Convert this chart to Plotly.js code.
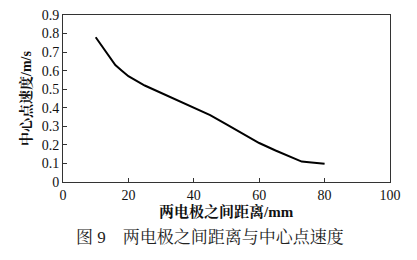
<!DOCTYPE html>
<html><head><meta charset="utf-8">
<script src="https://cdn.plot.ly/plotly-3.0.1.min.js"></script>
<style>html,body{margin:0;padding:0;background:#fff;}#c{width:417px;height:260px;}</style>
</head><body><div id="c"></div>
<script>
const distance = [10, 12, 14, 16, 18, 20, 25, 30, 35, 40, 45, 50, 55, 60, 65, 70, 73, 76, 80];
const speed = [0.78, 0.73, 0.68, 0.63, 0.60, 0.57, 0.52, 0.48, 0.44, 0.40, 0.36, 0.31, 0.26, 0.21, 0.17, 0.13, 0.11, 0.105, 0.098];
const xTicks = [0, 20, 40, 60, 80, 100];
const yTicks = [0, 0.1, 0.2, 0.3, 0.4, 0.5, 0.6, 0.7, 0.8, 0.9];
const yTickText = ['0', '0.1', '0.2', '0.3', '0.4', '0.5', '0.6', '0.7', '0.8', '0.9'];
const xTitle = '两电极之间距离/mm';
const yTitle = '中心点速度/m/s';
const caption = '图 9　两电极之间距离与中心点速度';

const fam = '"Liberation Serif", "Noto Serif CJK SC", "Noto Sans CJK SC", serif';
const trace = {x: distance, y: speed, mode: 'lines', line: {color: '#000', width: 2}, hoverinfo: 'none'};
const layout = {
  width: 417, height: 260,
  margin: {l: 63, r: 27, t: 15, b: 78},
  paper_bgcolor: '#fff', plot_bgcolor: '#fff',
  showlegend: false,
  font: {family: fam, size: 14, color: '#111'},
  xaxis: {range: [0, 100], tickvals: xTicks, ticks: 'inside', ticklen: 4, tickcolor: '#333',
    showline: true, linecolor: '#333', linewidth: 1, mirror: true, showgrid: false, zeroline: false,
    tickfont: {family: fam, size: 14}, fixedrange: true},
  yaxis: {range: [0, 0.9], tickvals: yTicks, ticktext: yTickText, ticks: 'inside', ticklen: 4, tickcolor: '#333',
    showline: true, linecolor: '#333', linewidth: 1, mirror: true, showgrid: false, zeroline: false,
    tickfont: {family: fam, size: 14}, fixedrange: true,
    title: {text: '<b>' + yTitle + '</b>', font: {family: fam, size: 14}, standoff: 6}},
  annotations: [
    {text: '<b>' + xTitle + '</b>', xref: 'paper', yref: 'paper', x: 0.5, y: -0.178, xanchor: 'center', yanchor: 'middle',
      showarrow: false, font: {family: fam, size: 15, color: '#111'}},
    {text: caption, xref: 'paper', yref: 'paper', x: 0.45, y: -0.33, xanchor: 'center', yanchor: 'middle',
      showarrow: false, font: {family: fam, size: 17, color: '#222'}}]
};
Plotly.newPlot('c', [trace], layout, {staticPlot: true, displayModeBar: false});
</script>
</body></html>
